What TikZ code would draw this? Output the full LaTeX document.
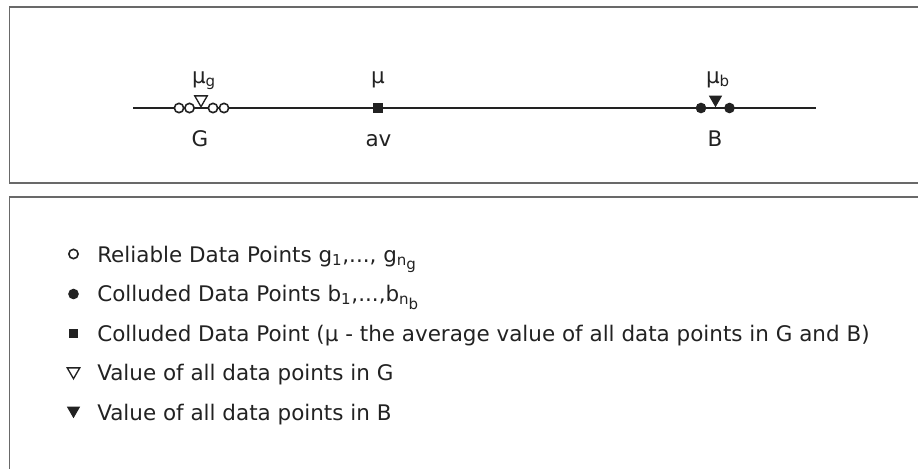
\documentclass[tikz,border=0pt]{standalone}
\usepackage{fontspec}
\setmainfont{DejaVu Sans}
\usetikzlibrary{shapes.geometric}
\definecolor{txtgray}{RGB}{34,34,34}
\definecolor{boxgray}{RGB}{105,105,105}

\begin{document}
\begin{tikzpicture}[x=0.75pt,y=-0.75pt,
  every node/.style={text=txtgray,inner sep=0pt,font=\fontsize{16.1}{20}\selectfont},
  boxline/.style={boxgray,line width=1.1pt},
  gdot/.style={circle,draw=txtgray,fill=white,line width=1.2pt,minimum size=7pt},
  bdot/.style={circle,fill=txtgray,minimum size=8pt},
  avbox/.style={rectangle,fill=txtgray,minimum size=7pt},
  gmean/.style={regular polygon,regular polygon sides=3,shape border rotate=180,draw=txtgray,fill=white,line width=1pt,minimum size=10.8pt},
  bmean/.style={regular polygon,regular polygon sides=3,shape border rotate=180,fill=txtgray,minimum size=11.6pt}]
\useasboundingbox (0,0) rectangle (918,469);
% Panel frames (open on the right)
\draw[boxline] (918,7) -- (9.5,7) -- (9.5,183) -- (918,183);
\draw[boxline] (918,197) -- (9.5,197) -- (9.5,469);
% Number line
\coordinate (lineL) at (133,108);
\coordinate (lineR) at (816,108);
\draw[txtgray,line width=1.2pt] (lineL) -- (lineR);
% Reliable points G
\foreach \x [count=\i] in {179,189.5,213,224} {\node[gdot] (g\i) at (\x,108) {};}
\node[gmean] (mug) at (201,99.5) {};
\node[anchor=base] (mugl) at (204,83) {μ\textsubscript{g}};
\node[anchor=base] (Gl) at (200,146) {G};
% Average
\node[avbox] (av) at (378,108) {};
\node[anchor=base] (mul) at (378,83) {μ};
\node[anchor=base] (avl) at (378.5,146) {av};
% Colluded points B
\foreach \x [count=\i] in {701,729.5} {\node[bdot] (b\i) at (\x,108) {};}
\node[bmean] (mub) at (715.5,99.5) {};
\node[anchor=base] (mubl) at (718,83) {μ\textsubscript{b}};
\node[anchor=base] (Bl) at (715,146) {B};
% Legend
\foreach \sty/\y [count=\i] in {gdot/254,bdot/294,avbox/333.5,gmean/371.5,bmean/410.5} {\node[\sty] (key\i) at (73.5,\y) {};}
\node[anchor=base west] (lab1) at (97,262) {Reliable Data Points g\textsubscript{1},..., g\textsubscript{n\raisebox{-0.5ex}{g}}};
\node[anchor=base west] (lab2) at (97,301.5) {Colluded Data Points b\textsubscript{1},...,b\textsubscript{n\raisebox{-0.5ex}{b}}};
\node[anchor=base west] (lab3) at (97,341) {Colluded Data Point (μ - the average value of all data points in G and B)};
\node[anchor=base west] (lab4) at (97,380.5) {Value of all data points in G};
\node[anchor=base west] (lab5) at (97,420) {Value of all data points in B};
\end{tikzpicture}
\end{document}
